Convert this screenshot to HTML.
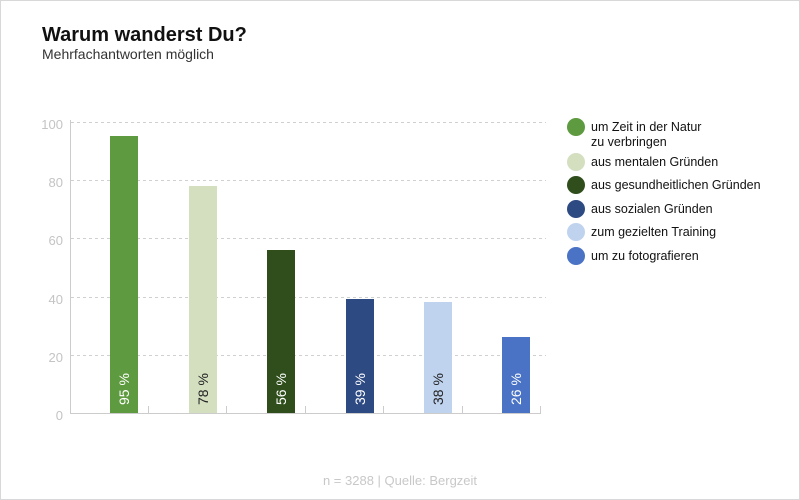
<!DOCTYPE html>
<html><head><meta charset="utf-8"><style>
body{margin:0;background:#fff;}
.wrap{position:relative;width:798px;height:498px;border:1px solid #d8d8d8;overflow:hidden;font-family:"Liberation Sans",Arial,sans-serif;}
</style></head><body><div class="wrap">
<svg width="798" height="498" viewBox="1 1 798 498" xmlns="http://www.w3.org/2000/svg" font-family="Liberation Sans, Arial, sans-serif">
<text x="42" y="41" font-size="20" font-weight="bold" fill="#111">Warum wanderst Du?</text>
<text x="42" y="59" font-size="14" fill="#333">Mehrfachantworten möglich</text>
<g stroke="#d0d0d0" stroke-dasharray="3,3" stroke-width="1">
<line x1="71" y1="122.5" x2="546" y2="122.5"/>
<line x1="71" y1="180.5" x2="546" y2="180.5"/>
<line x1="71" y1="238.5" x2="546" y2="238.5"/>
<line x1="71" y1="297.5" x2="546" y2="297.5"/>
<line x1="71" y1="355.5" x2="546" y2="355.5"/>
</g>
<line x1="70.5" y1="120" x2="70.5" y2="413" stroke="#ccc"/>
<line x1="70" y1="413.5" x2="541" y2="413.5" stroke="#ccc"/>
<g stroke="#ccc"><line x1="148.5" y1="406" x2="148.5" y2="413"/><line x1="226.5" y1="406" x2="226.5" y2="413"/><line x1="305.5" y1="406" x2="305.5" y2="413"/><line x1="383.5" y1="406" x2="383.5" y2="413"/><line x1="462.5" y1="406" x2="462.5" y2="413"/><line x1="540.5" y1="406" x2="540.5" y2="413"/></g>
<g font-size="13" fill="#c4c4c4" text-anchor="end">
<text x="63" y="129">100</text><text x="63" y="187">80</text><text x="63" y="245">60</text><text x="63" y="304">40</text><text x="63" y="362">20</text><text x="63" y="420">0</text>
</g>
<rect x="110" y="136" width="28" height="277" fill="#5e9a3f"/>
<rect x="189" y="186" width="28" height="227" fill="#d4dfc0"/>
<rect x="267" y="250" width="28" height="163" fill="#2f4e1b"/>
<rect x="346" y="299" width="28" height="114" fill="#2e4a82"/>
<rect x="424" y="302" width="28" height="111" fill="#bfd3ef"/>
<rect x="502" y="337" width="28" height="76" fill="#4a73c5"/>
<g font-size="14">
<text transform="translate(129,405) rotate(-90)" fill="#fff">95 %</text>
<text transform="translate(208,405) rotate(-90)" fill="#222">78 %</text>
<text transform="translate(286,405) rotate(-90)" fill="#fff">56 %</text>
<text transform="translate(365,405) rotate(-90)" fill="#fff">39 %</text>
<text transform="translate(443,405) rotate(-90)" fill="#222">38 %</text>
<text transform="translate(521,405) rotate(-90)" fill="#fff">26 %</text>
</g>
<g font-size="12.5" fill="#111">
<circle cx="576" cy="127" r="9" fill="#5e9a3f"/><text x="591" y="131">um Zeit in der Natur</text><text x="591" y="146">zu verbringen</text>
<circle cx="576" cy="162" r="9" fill="#d4dfc0"/><text x="591" y="166">aus mentalen Gründen</text>
<circle cx="576" cy="185" r="9" fill="#2f4e1b"/><text x="591" y="189">aus gesundheitlichen Gründen</text>
<circle cx="576" cy="209" r="9" fill="#2e4a82"/><text x="591" y="213">aus sozialen Gründen</text>
<circle cx="576" cy="232" r="9" fill="#bfd3ef"/><text x="591" y="236">zum gezielten Training</text>
<circle cx="576" cy="256" r="9" fill="#4a73c5"/><text x="591" y="260">um zu fotografieren</text>
</g>
<text x="400" y="485" font-size="13" fill="#c8c8c8" text-anchor="middle">n = 3288 | Quelle: Bergzeit</text>
</svg></div></body></html>
